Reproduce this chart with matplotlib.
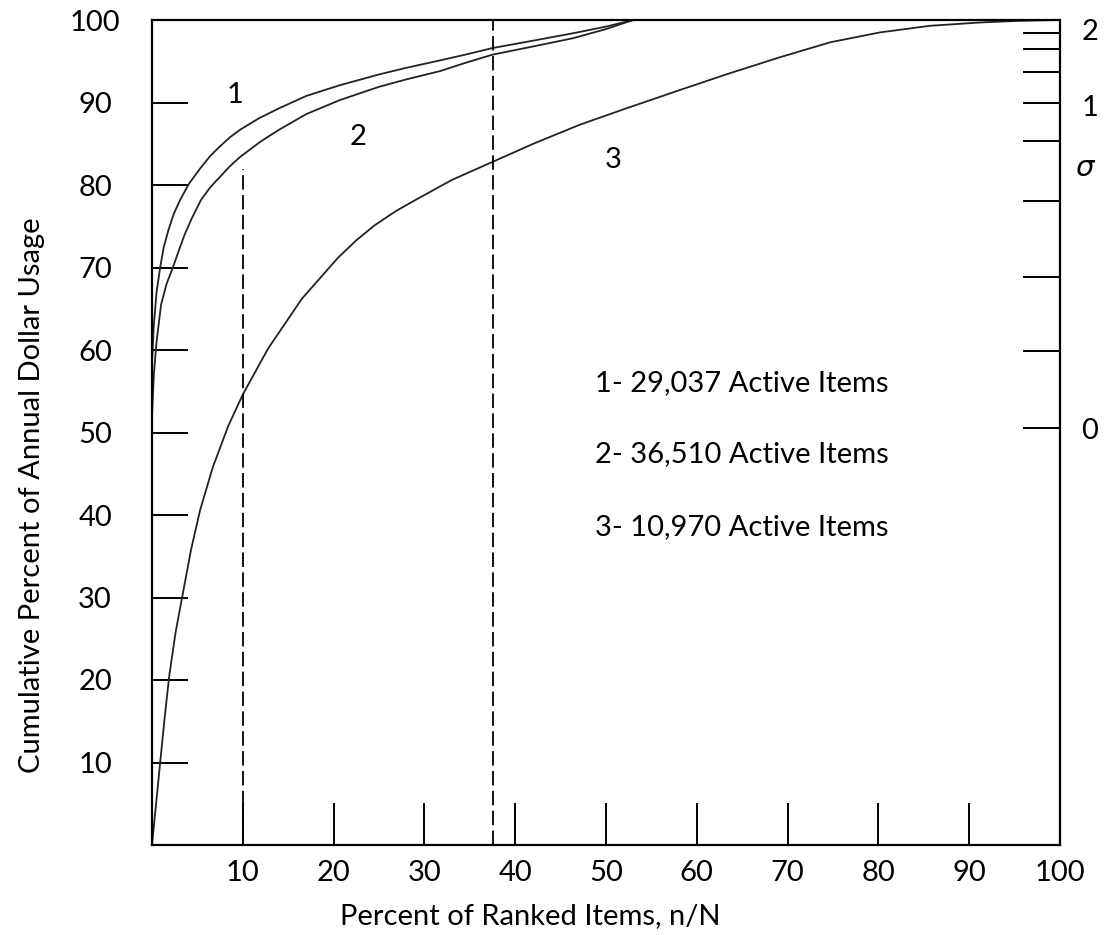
import matplotlib.pyplot as plt

# curves: percent of ranked items -> cumulative percent of usage
curve1_x = [0, 0.2, 0.5, 0.9, 1.3, 1.8, 2.4, 3.1, 4.1, 5.3, 6.4, 7.5, 8.6, 9.7, 11.8, 14,
            17, 20.7, 25, 28, 31.7, 34.5, 37.5, 42, 46.4, 50, 53]
curve1_y = [58.5, 63, 67, 70, 72.5, 74.5, 76.5, 78.2, 80.2, 82, 83.5, 84.7, 85.8, 86.7, 88.1, 89.3,
            90.8, 92.1, 93.4, 94.2, 95.1, 95.8, 96.6, 97.5, 98.4, 99.2, 100]

curve2_x = [0, 0.2, 0.5, 1.0, 1.6, 2.3, 3.0, 3.6, 4.4, 5.4, 6.4, 7.5, 8.6, 9.7, 12, 14,
            17, 20.7, 25, 28, 31.7, 34.5, 37.5, 42, 46.4, 50, 53]
curve2_y = [52, 57, 61, 65.5, 68, 70, 72.2, 74, 76, 78.2, 79.7, 81, 82.3, 83.4, 85.3, 86.7,
            88.6, 90.3, 91.9, 92.8, 93.8, 94.8, 95.8, 96.8, 97.8, 98.9, 100]

curve3_x = [0, 0.45, 0.9, 1.4, 1.9, 2.6, 3.4, 4.3, 5.3, 6.7, 8.4, 10, 12.8, 16.5, 20.5,
            22.5, 24.5, 26.8, 29.2, 33, 37.5, 42, 47.1, 52, 58.1, 63.5, 69.2, 74.7, 80.2,
            85.7, 91.2, 95.5, 100]
curve3_y = [0, 5, 10, 15.5, 20.5, 25.8, 30.5, 35.8, 40.6, 45.8, 50.8, 54.6, 60.2, 66.2, 71.2,
            73.3, 75.1, 76.8, 78.3, 80.6, 82.8, 85, 87.3, 89.2, 91.5, 93.5, 95.5, 97.3, 98.5,
            99.3, 99.7, 99.9, 100]

curve_labels = ['1', '2', '3']
curve_label_x = [9.1, 22.7, 50.8]
curve_label_y = [90.9, 85.8, 83.0]

legend_lines = ['1- 29,037 Active Items', '2- 36,510 Active Items', '3- 10,970 Active Items']
legend_y = [56.0, 47.4, 38.5]

dash_x = [10, 37.5]
dash_top = [82, 100]

x_ticks = [10, 20, 30, 40, 50, 60, 70, 80, 90, 100]
y_ticks = [10, 20, 30, 40, 50, 60, 70, 80, 90, 100]

# sigma scale on the right
sigma_ticks = [50.5, 59.9, 68.8, 78.1, 85.3, 89.9, 93.7, 96.5, 98.4]
sigma_labels = ['0', '1', '2']
sigma_label_y = [50.2, 89.3, 98.5]

FONT = 'Lato'
FS = 21
plt.rcParams['font.family'] = [FONT, 'DejaVu Sans']

fig = plt.figure(figsize=(11.09, 9.35), dpi=100)
ax = fig.add_axes([152 / 1109, 90 / 935, 908 / 1109, 825 / 935])
ax.set_xlim(0, 100)
ax.set_ylim(0, 100)

for s in ax.spines.values():
    s.set_linewidth(1.6)
    s.set_color('black')

for xs, ys in [(curve1_x, curve1_y), (curve2_x, curve2_y), (curve3_x, curve3_y)]:
    ax.plot(xs, ys, color='#222222', lw=1.3, solid_joinstyle='round', clip_on=False)

for x, top in zip(dash_x, dash_top):
    ax.plot([x, x], [0, top], color='black', lw=1.3, linestyle=(0, (8, 3)))

for lab, x, y in zip(curve_labels, curve_label_x, curve_label_y):
    ax.text(x, y, lab, fontsize=FS, ha='center', va='center')

for txt, y in zip(legend_lines, legend_y):
    ax.text(48.8, y, txt, fontsize=FS, ha='left', va='center')

ax.set_xticks(x_ticks)
ax.set_xticklabels([str(v) for v in x_ticks])
ax.set_yticks(y_ticks)
ax.set_yticklabels([str(v) for v in y_ticks])
ax.tick_params(axis='x', direction='in', length=30, width=1.4, pad=11, labelsize=FS)
ax.tick_params(axis='y', direction='in', length=26, width=1.4, pad=41, labelsize=FS)
for t in ax.get_yticklabels():
    t.set_horizontalalignment('center')

ax.set_xlabel('Percent of Ranked Items, n/N', fontsize=FS)
ax.xaxis.set_label_coords(0.417, -0.070)
ax.set_ylabel('Cumulative Percent of Annual Dollar Usage', fontsize=FS)
ax.yaxis.set_label_coords(-0.118, 0.424)

ax2 = ax.twinx()
ax2.set_ylim(0, 100)
ax2.set_yticks(sigma_ticks)
ax2.set_yticklabels([])
ax2.tick_params(axis='y', direction='in', length=27, width=1.4)
for s in ax2.spines.values():
    s.set_visible(False)

for lab, y in zip(sigma_labels, sigma_label_y):
    ax.text(103.3, y, lab, fontsize=FS, ha='center', va='center', clip_on=False)
ax.text(102.8, 82.1, r'$\sigma$', fontsize=FS, ha='center', va='center', clip_on=False)

fig.savefig('out.png', dpi=100)
